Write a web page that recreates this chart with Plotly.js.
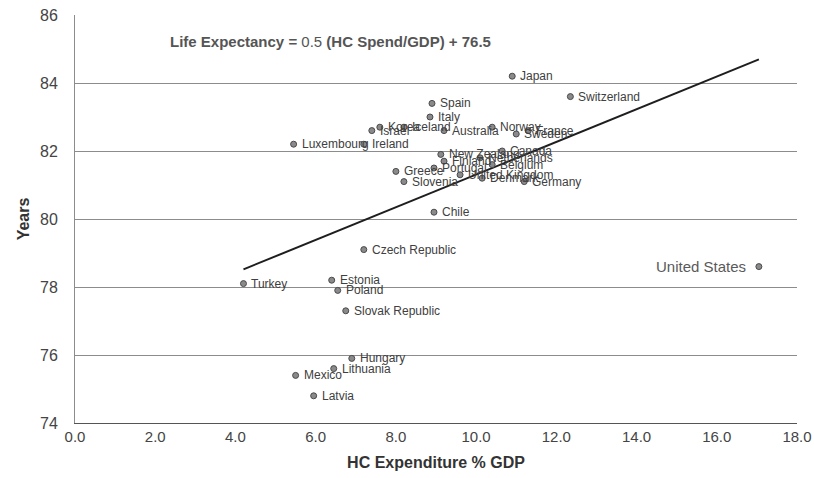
<!DOCTYPE html>
<html>
<head>
<meta charset="utf-8">
<script src="https://cdn.plot.ly/plotly-3.0.1.min.js"></script>
<style>html,body{margin:0;padding:0;background:#fff;}</style>
</head>
<body>
<div id="chart" style="width:814px;height:478px;"></div>
<script>
const countries = ["Japan","Switzerland","Spain","Italy","Israel","Korea","Iceland","Australia","Norway","Sweden","France","Luxembourg","Ireland","New Zealand","Finland","Portugal","Canada","Netherlands","Belgium","Greece","Slovenia","United Kingdom","Denmark","Germany","Chile","Czech Republic","Turkey","Estonia","Poland","Slovak Republic","Hungary","Lithuania","Mexico","Latvia","United States"];
const hcSpend = [10.9,12.35,8.9,8.85,7.4,7.6,8.2,9.2,10.4,11.0,11.3,5.45,7.2,9.12,9.2,8.95,10.65,10.1,10.4,8.0,8.2,9.6,10.15,11.2,8.95,7.2,4.2,6.4,6.55,6.75,6.9,6.45,5.5,5.95,17.05];
const lifeExp = [84.2,83.6,83.4,83.0,82.6,82.7,82.7,82.6,82.7,82.5,82.6,82.2,82.2,81.9,81.7,81.5,82.0,81.8,81.6,81.4,81.1,81.3,81.2,81.1,80.2,79.1,78.1,78.2,77.9,77.3,75.9,75.6,75.4,74.8,78.6];
const xTickVals = [0,2,4,6,8,10,12,14,16,18];
const yTickVals = [74,76,78,80,82,84,86];

// least-squares trend line
const n = hcSpend.length;
const mx = hcSpend.reduce((a,b)=>a+b,0)/n;
const my = lifeExp.reduce((a,b)=>a+b,0)/n;
let sxy=0, sxx=0;
for(let i=0;i<n;i++){sxy+=(hcSpend[i]-mx)*(lifeExp[i]-my);sxx+=(hcSpend[i]-mx)**2;}
const slope = sxy/sxx, intercept = my - slope*mx;
const xMin = Math.min(...hcSpend), xMax = Math.max(...hcSpend);
const trendX = [xMin, xMax];
const trendY = trendX.map(x=>slope*x+intercept);

const sans = '"Liberation Sans",Arial,sans-serif';

const traces = [
  {x: trendX, y: trendY, mode:'lines', line:{color:'#1e1e1e', width:2}, hoverinfo:'skip', showlegend:false},
  {x: hcSpend, y: lifeExp, mode:'markers', marker:{size:6, color:'#8a8a8a', line:{color:'#4a4a4a', width:1}}, showlegend:false}
];

const annotations = countries.map((c,i)=>{
  const us = c === "United States";
  return {
    x: hcSpend[i], y: lifeExp[i], xref:'x', yref:'y', text: c, showarrow:false,
    xanchor: us ? 'right' : 'left', yanchor:'middle',
    xshift: us ? -12 : 7, borderpad:0,
    font: us ? {family:sans, size:15, color:'#5a5a5a'} : {family:sans, size:12, color:'#404040'}
  };
});
annotations.push({
  xref:'paper', yref:'paper', x:0.129, y:0.934, xanchor:'left', yanchor:'middle', showarrow:false,
  text:'Life Expectancy = <span style="font-weight:normal">0.5</span> (HC Spend/GDP) + 76.5',
  font:{family:sans, size:15, color:'#555555', weight:'bold'}
});

const layout = {
  width:814, height:478,
  margin:{l:75, r:17, t:15, b:55},
  paper_bgcolor:'#ffffff', plot_bgcolor:'#ffffff',
  showlegend:false,
  xaxis:{
    range:[0,18], tickvals:xTickVals, tickformat:'.1f', showgrid:false, zeroline:false,
    showline:true, linecolor:'#555555', linewidth:1, ticks:'', ticklabeloverflow:'allow',
    tickfont:{family:sans, size:15, color:'#444444'},
    title:{text:'<b>HC Expenditure % GDP</b>', font:{family:sans, size:16, color:'#333333'}, standoff:12}
  },
  yaxis:{
    range:[74,86], tickvals:yTickVals, showgrid:true, gridcolor:'#8c8c8c', gridwidth:1, zeroline:false,
    showline:true, linecolor:'#8c8c8c', linewidth:1, ticks:'', ticklabelstandoff:13,
    tickfont:{family:sans, size:16, color:'#444444'},
    title:{text:'<b>Years</b>', font:{family:sans, size:16, color:'#333333'}, standoff:6}
  },
  annotations: annotations
};

Plotly.newPlot('chart', traces, layout, {staticPlot:true, displayModeBar:false});
</script>
</body>
</html>
